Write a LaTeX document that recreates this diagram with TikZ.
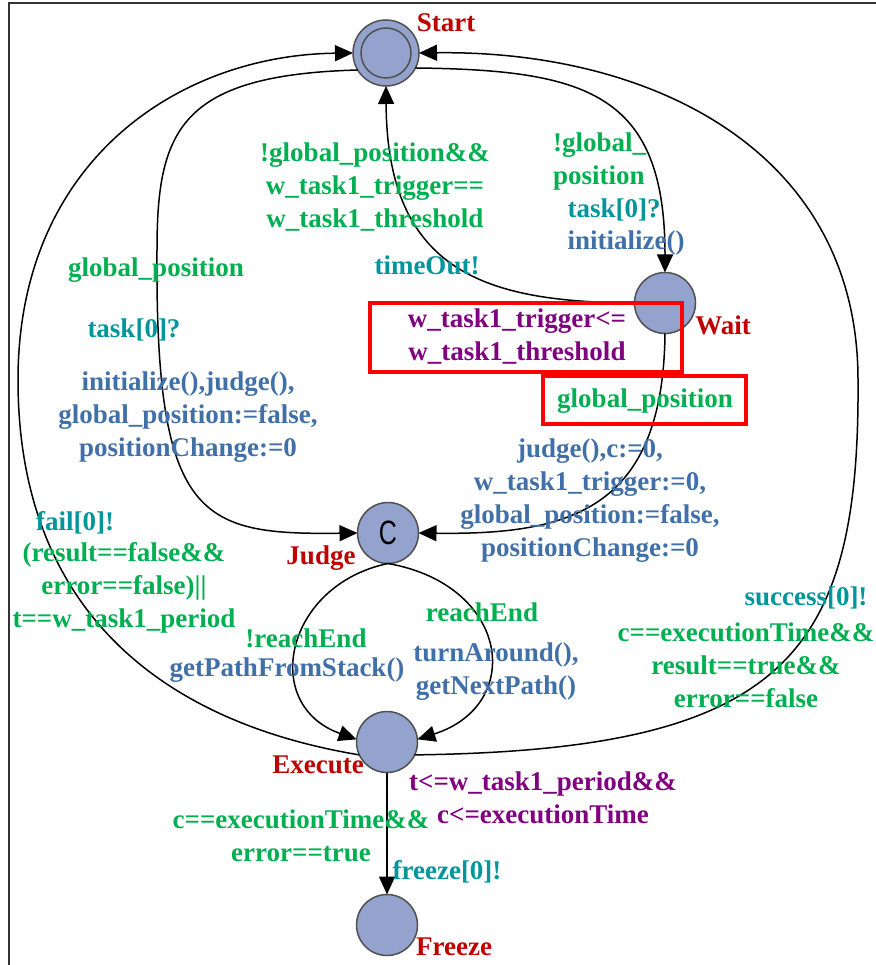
\documentclass[tikz,border=0pt]{standalone}
\usepackage{fontspec}
\setmainfont{Liberation Serif}
\setsansfont{Liberation Sans}
\usetikzlibrary{arrows.meta}

\definecolor{ggreen}{RGB}{0,176,80}
\definecolor{gteal}{RGB}{0,150,155}
\definecolor{gblue}{RGB}{65,112,168}
\definecolor{gpurple}{RGB}{128,0,128}
\definecolor{gred}{RGB}{192,0,0}
\definecolor{sfill}{RGB}{148,163,206}
\definecolor{sborder}{RGB}{80,80,80}

\tikzset{
  loc/.style={circle, draw=sborder, fill=sfill, line width=1.5pt,
              minimum size=61pt, inner sep=0pt, outer sep=0pt},
  edge/.style={line width=1.5pt, black,
               -{Triangle[length=18pt,width=16pt]}},
  lbl/.style={font=\fontsize{27}{33}\selectfont\bfseries, align=center,
              inner sep=0pt},
  locname/.style={lbl, text=gred},
  guard/.style={lbl, text=ggreen},
  sync/.style={lbl, text=gteal},
  upd/.style={lbl, text=gblue},
  inv/.style={lbl, text=gpurple},
  hilite/.style={draw=red, line width=4pt}
}

\begin{document}
\begin{tikzpicture}[x=1pt, y=-1pt]
\useasboundingbox (0,0) rectangle (875,965);

% frame
\draw[line width=1.2pt, black!80] (9,975) -- (9,3) -- (885,3);

% locations
\node[loc, minimum size=66pt] (start) at (386,53) {};
\node[circle, draw=sborder, line width=1.5pt, minimum size=50pt, inner sep=0pt] (startin) at (start) {};
\node[loc] (wait) at (665,303) {};
\node[loc, font=\fontsize{25}{25}\sffamily] (judge) at (388,533) {\scalebox{1}[1.35]{C}};
\node[loc] (exec) at (387,742) {};
\node[loc] (freeze) at (387,925) {};

% edges
\draw[edge] (start.-27) .. controls (585,70) and (665,92) .. (wait.north);
\draw[edge] (wait.west) .. controls (490,302) and (387,275) .. (start.south);
\draw[edge] (wait.south) .. controls (663,510) and (570,535) .. (judge.east);
\draw[edge] (start.211) .. controls (180,75) and (157,130) .. (157,250)
            .. controls (155,520) and (200,535) .. (judge.west);
\draw[edge] (judge.south) .. controls (285,585) and (260,705) .. (exec.175);
\draw[edge] (judge.south) .. controls (510,585) and (525,705) .. (exec.5);
\draw[edge] (exec.205) .. controls (150,720) and (18,600) .. (18,380)
            .. controls (18,160) and (180,55) .. (start.west);
\draw[edge] (exec.-25) .. controls (780,750) and (860,660) .. (858,380)
            .. controls (858,150) and (650,50) .. (start.east);
\draw[edge] (exec.south) -- (freeze.north);

% highlighted boxes
\draw[hilite] (370,303) rectangle (682,372);
\draw[hilite] (543,376) rectangle (746,424);

% location names
\node[locname] (nstart) at (446,23) {Start};
\node[locname] (nwait) at (723,325) {Wait};
\node[locname] (njudge) at (321,558) {Judge};
\node[locname] (nexec) at (318,765) {Execute};
\node[locname] (nfreeze) at (454,947) {Freeze};

% Wait -> Start
\node[guard] (g1) at (375,187) {!global\_position\&\&\\w\_task1\_trigger==\\w\_task1\_threshold};
\node[sync] (s1) at (427,265) {timeOut!};

% Start -> Wait
\node[guard, align=left, anchor=west] (g2) at (553,162) {!global\_\\position};
\node[sync] (s2) at (614,210) {task[0]?};
\node[upd] (u2) at (626,243) {initialize()};

% Wait invariant and guard
\node[inv] (i1) at (517,337) {w\_task1\_trigger<=\\w\_task1\_threshold};
\node[guard] (g3) at (645,401) {global\_position};

% Start -> Judge
\node[guard] (g4) at (156,270) {global\_position};
\node[sync] (s4) at (134,330) {task[0]?};
\node[upd] (u4) at (188,417) {initialize(),judge(),\\global\_position:=false,\\positionChange:=0};

% Wait -> Judge
\node[upd] (u5) at (590,501) {judge(),c:=0,\\w\_task1\_trigger:=0,\\global\_position:=false,\\positionChange:=0};

% Execute -> Start (fail)
\node[sync] (s6) at (75,523) {fail[0]!};
\node[guard] (g6) at (124,588) {(result==false\&\&\\error==false)||\\t==w\_task1\_period};

% Judge -> Execute
\node[guard] (g7) at (306,638) {!reachEnd};
\node[upd] (u7) at (287,670) {getPathFromStack()};
\node[guard] (g8) at (482,612) {reachEnd};
\node[upd] (u8) at (496,672) {turnAround(),\\getNextPath()};

% Execute -> Start (success)
\node[sync] (s9) at (806,598) {success[0]!};
\node[guard] (g9) at (746,665) {c==executionTime\&\&\\result==true\&\&\\error==false};

% Execute invariant
\node[inv] (i2) at (543,798) {t<=w\_task1\_period\&\&\\c<=executionTime};

% Execute -> Freeze
\node[guard] (g10) at (301,836) {c==executionTime\&\&\\error==true};
\node[sync] (s10) at (447,872) {freeze[0]!};
\end{tikzpicture}
\end{document}
